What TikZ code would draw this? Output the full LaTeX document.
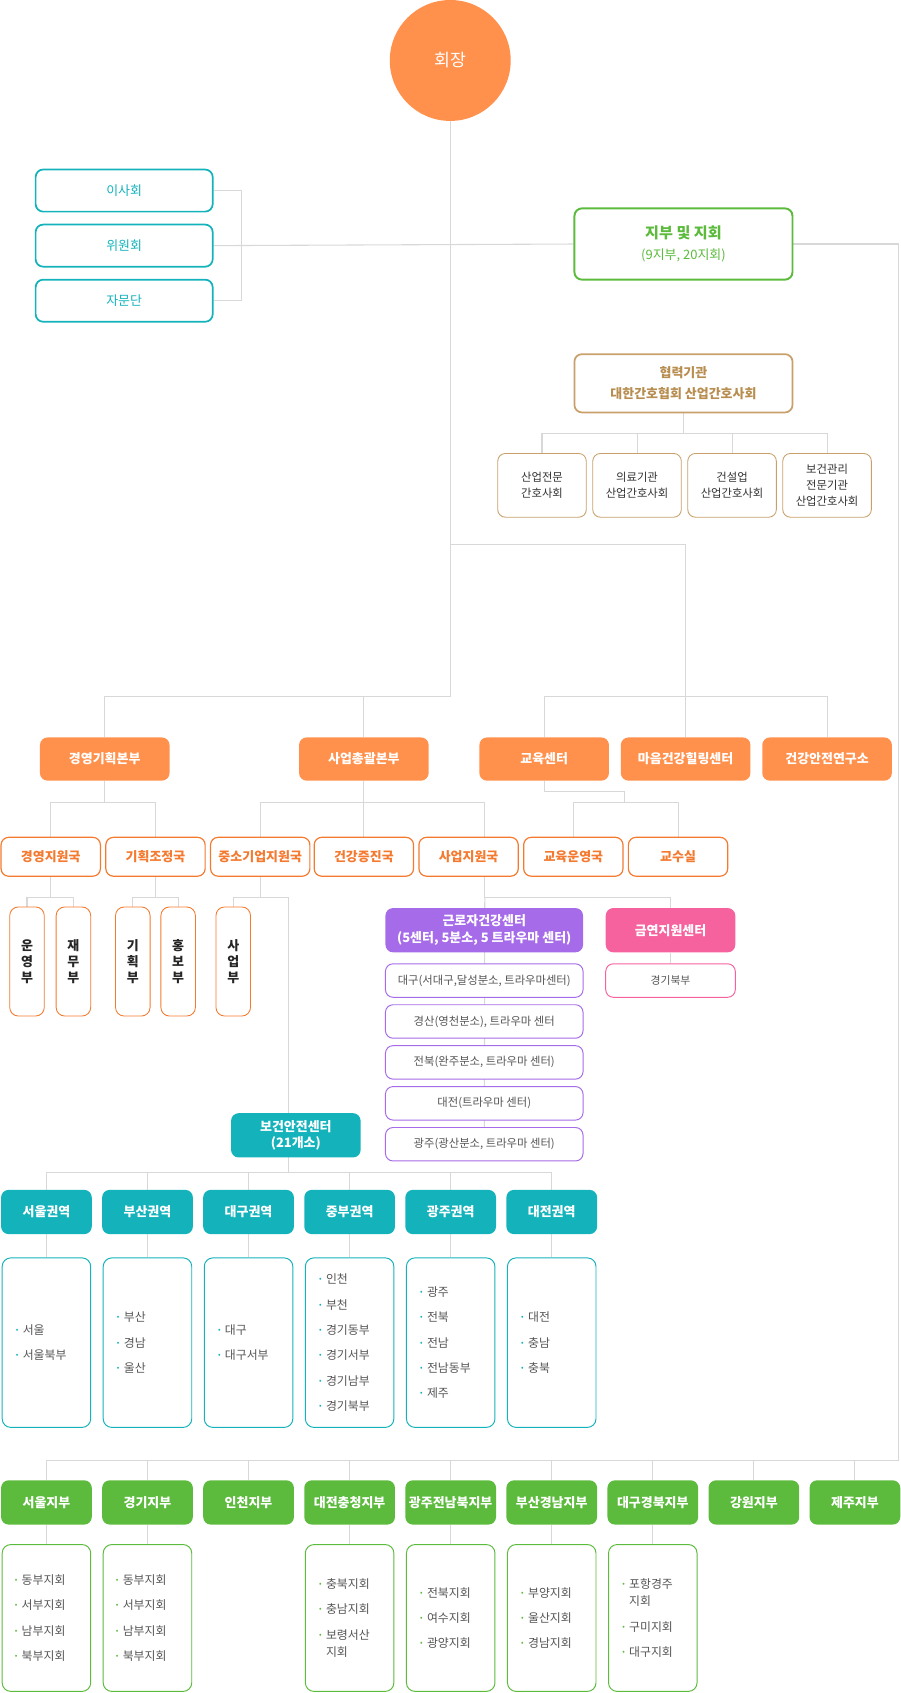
\documentclass[tikz,border=0pt]{standalone}
\usepackage{fontspec}
\setmainfont{Noto Sans CJK KR}
\usetikzlibrary{positioning,backgrounds}

\definecolor{chiefor}{HTML}{FF914D}
\definecolor{deptor}{HTML}{F47A30}
\definecolor{orgteal}{HTML}{14B3BC}
\definecolor{orggreen}{HTML}{5CBB3D}
\definecolor{orgpurple}{HTML}{A66BE9}
\definecolor{orgpink}{HTML}{F6629E}
\definecolor{orgtan}{HTML}{C9A06B}
\definecolor{orgtantext}{HTML}{B88D50}
\definecolor{linegray}{HTML}{D8D8D8}
\definecolor{itemgray}{HTML}{555555}

\newcommand\listdot[1]{\raisebox{1.8pt}{\color{#1}\fontsize{7}{7}\selectfont •}\hspace{4pt}}
\newcommand\ritem[1]{\listdot{orgteal}#1}
\newcommand\gitem[1]{\listdot{orggreen}#1}
\newcommand\gcont{\hphantom{\listdot{orggreen}}}

\begin{document}
\begin{tikzpicture}[x=1pt, y=-1pt,
  every node/.style={inner sep=0pt, align=center},
  conn/.style={draw=linegray, line width=1pt},
  sidebox/.style={draw=orgteal, line width=1.6pt, fill=white, rounded corners=7pt,
    minimum width=164pt, minimum height=39pt, text=orgteal, font=\fontsize{12}{14}\selectfont},
  chapterbox/.style={draw=orggreen, line width=1.8pt, fill=white, rounded corners=7pt,
    minimum width=202pt, minimum height=66pt, text=orggreen},
  partnerbox/.style={draw=orgtan, line width=1.6pt, fill=white, rounded corners=7pt,
    minimum width=202pt, minimum height=54pt, text=orgtantext, font=\bfseries\fontsize{12}{19}\selectfont},
  memberbox/.style={draw=orgtan, line width=0.8pt, fill=white, rounded corners=7pt,
    minimum width=82pt, minimum height=59pt, text=black!80, font=\fontsize{10.5}{15}\selectfont},
  hqbox/.style={fill=chiefor, rounded corners=7pt, minimum width=120pt, minimum height=40pt,
    text=white, font=\bfseries\fontsize{12}{14}\selectfont},
  bureaubox/.style={draw=deptor, line width=1.1pt, fill=white, rounded corners=7pt,
    minimum width=92pt, minimum height=36pt, text=deptor, font=\bfseries\fontsize{12}{14}\selectfont},
  unitbox/.style={draw=deptor, line width=0.8pt, fill=white, rounded corners=8pt,
    minimum width=32pt, minimum height=101pt, text=black!85, font=\bfseries\fontsize{12}{15}\selectfont},
  workerbox/.style={fill=orgpurple, rounded corners=7pt, minimum width=183pt, minimum height=41pt,
    text=white, font=\bfseries\fontsize{12}{16}\selectfont},
  workersub/.style={draw=orgpurple, line width=0.9pt, fill=white, rounded corners=7pt,
    minimum width=183pt, minimum height=31pt, text=itemgray, font=\fontsize{10.5}{12}\selectfont},
  smokebox/.style={workerbox, fill=orgpink, minimum width=120pt},
  smokesub/.style={workersub, draw=orgpink, minimum width=120pt, font=\fontsize{10}{12}\selectfont},
  safetybox/.style={fill=orgteal, rounded corners=7pt, minimum width=120pt, minimum height=41pt,
    text=white, font=\bfseries\fontsize{12}{15.5}\selectfont},
  regionbox/.style={fill=orgteal, rounded corners=7pt, minimum width=84pt, minimum height=41pt,
    text=white, font=\bfseries\fontsize{12}{14}\selectfont},
  regionlist/.style={draw=orgteal, line width=0.9pt, fill=white, rounded corners=8pt,
    minimum width=82pt, minimum height=157pt},
  branchbox/.style={regionbox, fill=orggreen},
  branchlist/.style={regionlist, draw=orggreen, minimum height=136pt},
  listtext/.style={anchor=west, align=left, text=itemgray, font=\fontsize{11}{16}\selectfont}]

\useasboundingbox (0,0) rectangle (834,1568);

\node[circle, fill=chiefor, minimum size=112pt, text=white, font=\fontsize{16}{18}\selectfont] (chair) at (417,56) {회장};

\node[sidebox] (board) at (115,176.5) {이사회};
\node[sidebox] (committee) at (115,227.5) {위원회};
\node[sidebox] (advisory) at (115,278.5) {자문단};

\node[chapterbox] (chapters) at (633,226) {{\bfseries\fontsize{14}{17}\selectfont 지부 및 지회}\\[7pt]{\fontsize{12}{14}\selectfont (9지부, 20지회)}};

\node[partnerbox] (partner) at (633,355) {협력기관\\대한간호협회 산업간호사회};
\foreach \i/\x/\txt in {1/502/{산업전문\\간호사회}, 2/590/{의료기관\\산업간호사회},
    3/678/{건설업\\산업간호사회}, 4/766/{보건관리\\전문기관\\산업간호사회}}
  \node[memberbox] (member\i) at (\x,449.5) {\txt};

\foreach \name/\x/\txt in {hqmgmt/97/경영기획본부, hqbiz/337/사업총괄본부, edu/504/교육센터,
    heal/635/마음건강힐링센터, lab/766/건강안전연구소}
  \node[hqbox] (\name) at (\x,703) {\txt};

\foreach \i/\x/\txt in {1/47/경영지원국, 2/144/기획조정국, 3/241/중소기업지원국, 4/337/건강증진국,
    5/434/사업지원국, 6/531/교육운영국, 7/628/교수실}
  \node[bureaubox] (bureau\i) at (\x,793.5) {\txt};

\foreach \i/\x/\txt in {1/25/{운\\영\\부}, 2/68/{재\\무\\부}, 3/123/{기\\획\\부},
    4/165/{홍\\보\\부}, 5/216/{사\\업\\부}}
  \node[unitbox] (unit\i) at (\x,890.5) {\txt};

\node[workerbox] (worker) at (448.5,861.5) {근로자건강센터\\(5센터, 5분소, 5 트라우마 센터)};
\node[workersub, below=10pt of worker] (ws1) {대구(서대구,달성분소, 트라우마센터)};
\node[workersub, below=6pt of ws1] (ws2) {경산(영천분소), 트라우마 센터};
\node[workersub, below=6pt of ws2] (ws3) {전북(완주분소, 트라우마 센터)};
\node[workersub, below=6pt of ws3] (ws4) {대전(트라우마 센터)};
\node[workersub, below=6pt of ws4] (ws5) {광주(광산분소, 트라우마 센터)};

\node[smokebox] (smoke) at (621,861.5) {금연지원센터};
\node[smokesub, below=10pt of smoke] (smoke1) {경기북부};

\node[safetybox] (safety) at (274,1051.5) {보건안전센터\\(21개소)};

\foreach \i/\txt in {1/서울권역, 2/부산권역, 3/대구권역, 4/중부권역, 5/광주권역, 6/대전권역}{
  \node[regionbox] (region\i) at ({43+93.6*(\i-1)},1122.5) {\txt};
  \node[regionlist] (rlist\i) at ({43+93.6*(\i-1)},1243.5) {};
}
\node[listtext] (rtext1) at ([xshift=13pt]rlist1.west) {\ritem{서울}\\[7.5pt]\ritem{서울북부}};
\node[listtext] (rtext2) at ([xshift=13pt]rlist2.west) {\ritem{부산}\\[7.5pt]\ritem{경남}\\[7.5pt]\ritem{울산}};
\node[listtext] (rtext3) at ([xshift=13pt]rlist3.west) {\ritem{대구}\\[7.5pt]\ritem{대구서부}};
\node[listtext] (rtext4) at ([xshift=13pt]rlist4.west) {\ritem{인천}\\[7.5pt]\ritem{부천}\\[7.5pt]\ritem{경기동부}\\[7.5pt]\ritem{경기서부}\\[7.5pt]\ritem{경기남부}\\[7.5pt]\ritem{경기북부}};
\node[listtext] (rtext5) at ([xshift=13pt]rlist5.west) {\ritem{광주}\\[7.5pt]\ritem{전북}\\[7.5pt]\ritem{전남}\\[7.5pt]\ritem{전남동부}\\[7.5pt]\ritem{제주}};
\node[listtext] (rtext6) at ([xshift=13pt]rlist6.west) {\ritem{대전}\\[7.5pt]\ritem{충남}\\[7.5pt]\ritem{충북}};

\foreach \i/\txt in {1/서울지부, 2/경기지부, 3/인천지부, 4/대전충청지부, 5/광주전남북지부,
    6/부산경남지부, 7/대구경북지부, 8/강원지부, 9/제주지부}
  \node[branchbox] (branch\i) at ({43+93.6*(\i-1)},1391.5) {\txt};
\foreach \i in {1,2,4,5,6,7}
  \node[branchlist] (blist\i) at ({43+93.6*(\i-1)},1498.5) {};
\node[listtext] (btext1) at ([xshift=12pt]blist1.west) {\gitem{동부지회}\\[7.5pt]\gitem{서부지회}\\[7.5pt]\gitem{남부지회}\\[7.5pt]\gitem{북부지회}};
\node[listtext] (btext2) at ([xshift=12pt]blist2.west) {\gitem{동부지회}\\[7.5pt]\gitem{서부지회}\\[7.5pt]\gitem{남부지회}\\[7.5pt]\gitem{북부지회}};
\node[listtext] (btext4) at ([xshift=13pt]blist4.west) {\gitem{충북지회}\\[7.5pt]\gitem{충남지회}\\[7.5pt]\gitem{보령서산}\\\gcont 지회};
\node[listtext] (btext5) at ([xshift=13pt]blist5.west) {\gitem{전북지회}\\[7.5pt]\gitem{여수지회}\\[7.5pt]\gitem{광양지회}};
\node[listtext] (btext6) at ([xshift=13pt]blist6.west) {\gitem{부양지회}\\[7.5pt]\gitem{울산지회}\\[7.5pt]\gitem{경남지회}};
\node[listtext] (btext7) at ([xshift=13pt]blist7.west) {\gitem{포항경주}\\\gcont 지회\\[7.5pt]\gitem{구미지회}\\[7.5pt]\gitem{대구지회}};

\coordinate (mainend) at (417,645);
\coordinate (edujoin) at (417,504);
\coordinate (chapterbar) at (832,1353);
\coordinate (regionbar) at (267,1086);

\begin{scope}[on background layer]
\draw[conn] (board.east) -- ++(26,0) |- (advisory.east);
\draw[conn] (committee.east) -- (chapters.west);
\draw[conn] (chair) -- (mainend) -| (hqmgmt);
\draw[conn] (mainend) -| (hqbiz);
\draw[conn] (edujoin) -| (heal);
\draw[conn] (edu.north) -- ++(0,-38) -| (lab);

\draw[conn] (partner.south) -- ++(0,19) coordinate (partnerjoin);
\draw[conn] (member1) |- (partnerjoin) -| (member4);
\draw[conn] (member2) -- (member2 |- partnerjoin);
\draw[conn] (member3) -- (member3 |- partnerjoin);

\draw[conn] (hqmgmt.south) -- ++(0,20) coordinate (mgmtjoin);
\draw[conn] (bureau1) |- (mgmtjoin) -| (bureau2);
\draw[conn] (hqbiz.south) -- ++(0,20) coordinate (bizjoin);
\draw[conn] (bureau3) |- (bizjoin) -| ([xshift=15pt]bureau5.north);
\draw[conn] (bizjoin) -- (bureau4);
\draw[conn] (edu.south) -- ++(0,10) -- ++(74,0) -- ++(0,10) coordinate (edujoin2);
\draw[conn] (bureau6) |- (edujoin2) -| (bureau7);

\draw[conn] (bureau1.south) -- ++(0,19) coordinate (u1join);
\draw[conn] (unit1) |- (u1join) -| (unit2);
\draw[conn] (bureau2.south) -- ++(0,19) coordinate (u2join);
\draw[conn] (unit3) |- (u2join) -| (unit4);
\draw[conn] (bureau3.south) -- ++(0,19) coordinate (u3join);
\draw[conn] (unit5) |- (u3join) -| (regionbar);

\draw[conn] ([xshift=15pt]bureau5.south) -- ++(0,19) coordinate (workjoin) -| (smoke);
\draw[conn] (workjoin) -- (ws5);
\draw[conn] (smoke) -- (smoke1);

\draw[conn] (region1) |- (regionbar) -| (region6);
\foreach \i in {2,...,5}
  \draw[conn] (region\i) -- (region\i |- regionbar);
\foreach \i in {1,...,6}
  \draw[conn] (region\i) -- (rlist\i);

\draw[conn] (chapters.east) -| (chapterbar) -| (branch1);
\foreach \i in {2,...,9}
  \draw[conn] (branch\i) -- (branch\i |- chapterbar);
\foreach \i in {1,2,4,5,6,7}
  \draw[conn] (branch\i) -- (blist\i);
\end{scope}
\end{tikzpicture}
\end{document}
